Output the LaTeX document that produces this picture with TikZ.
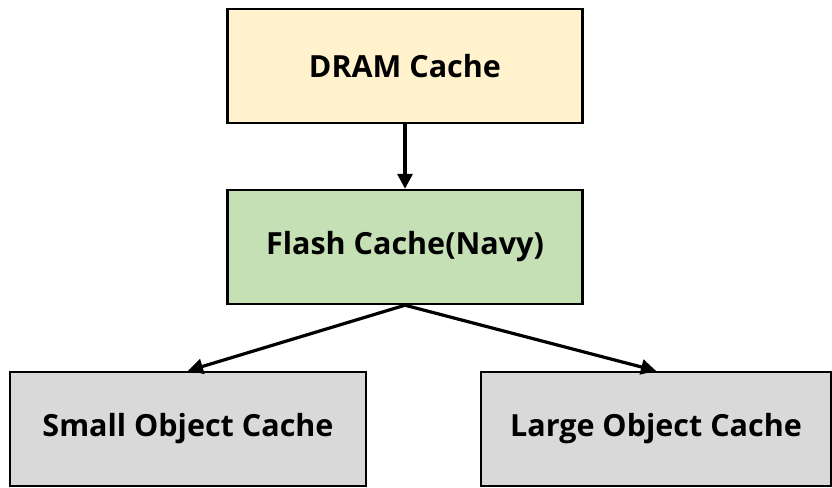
\documentclass[tikz,border=0pt]{standalone}
\usepackage{fontspec}
\setmainfont{Open Sans}
\usetikzlibrary{arrows.meta}
\definecolor{dramc}{HTML}{FFF2CC}
\definecolor{flashc}{HTML}{C5E0B4}
\definecolor{objc}{HTML}{D9D9D9}
\begin{document}
\begin{tikzpicture}[x=1pt,y=-1pt,
  cbox/.style={draw=black, line width=2.4pt, minimum width=355pt, minimum height=114pt, inner sep=0pt, font=\fontsize{30.5}{36}\selectfont\bfseries},
  conn/.style={line width=3.2pt, -{Triangle[length=15pt,width=15pt]}}]
\useasboundingbox (0,0) rectangle (832,487);
\node[cbox, fill=dramc] (dram) at (405,66) {DRAM Cache};
\node[cbox, fill=flashc] (flash) at (405,247) {Flash Cache(Navy)};
\node[cbox, fill=objc, minimum width=356pt] (small) at (188,429) {Small Object Cache};
\node[cbox, fill=objc, minimum width=350pt] (large) at (656,429) {Large Object Cache};
\draw[conn] (dram.south) -- (flash.north);
\draw[conn] (flash.south) -- (small.north);
\draw[conn] (flash.south) -- (large.north);
\end{tikzpicture}
\end{document}
